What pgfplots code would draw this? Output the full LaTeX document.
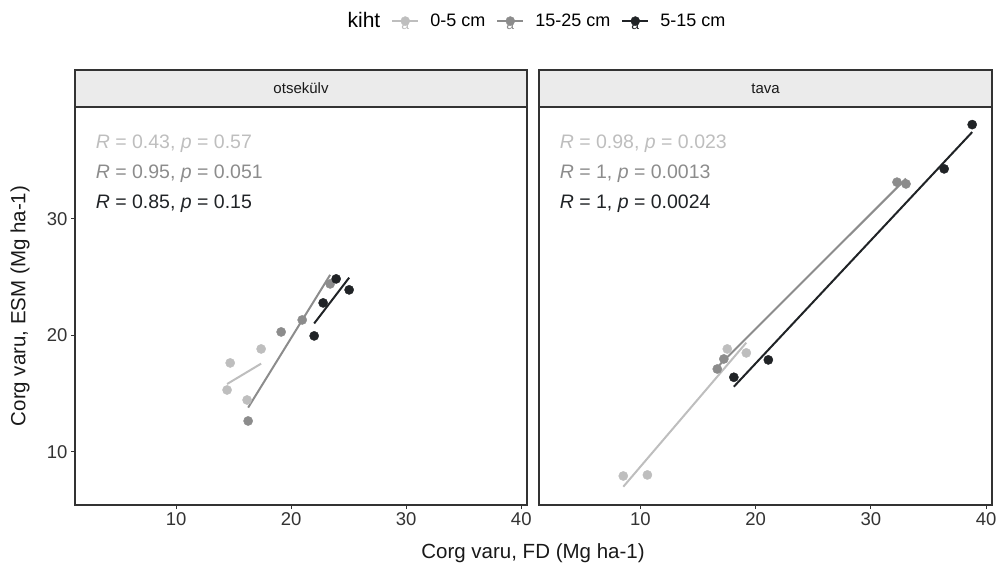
\documentclass[border=0pt]{standalone}
\usepackage{pgfplots}
\pgfplotsset{compat=1.18}
\usepackage{pgfplotstable}
\usepackage{fontspec}
\setmainfont{Liberation Sans}
\definecolor{lightc}{RGB}{190,190,190}
\definecolor{midc}{RGB}{140,140,140}
\definecolor{darkc}{RGB}{32,35,38}
\definecolor{framec}{RGB}{51,51,51}
\definecolor{stripc}{RGB}{235,235,235}

% otsekulv panel
\pgfplotstableread{
x y
14.43 15.32
14.70 17.64
16.17 14.46
17.39 18.84
}\OA
\pgfplotstableread{
x y
16.26 12.66
19.13 20.30
20.96 21.33
23.39 24.42
}\OB
\pgfplotstableread{
x y
22.00 19.96
22.78 22.79
23.91 24.85
25.04 23.91
}\OC
% tava panel
\pgfplotstableread{
x y
8.52 7.94
10.61 8.03
17.54 18.84
19.19 18.50
}\TA
\pgfplotstableread{
x y
16.67 17.12
17.24 17.98
32.26 33.15
33.04 33.00
}\TB
\pgfplotstableread{
x y
18.11 16.41
21.10 17.90
36.35 34.29
38.78 38.09
}\TC

\pgfplotsset{panel/.style={
  scale only axis, width=452pt, height=398pt,
  xmin=1.21, xmax=40.5, ymin=5.45, ymax=39.6,
  axis line style={framec, line width=1.1pt},
  tick style={framec, line width=1pt},
  tick align=outside, major tick length=4pt,
  xtick={10,20,30,40}, ytick={10,20,30},
  xtick pos=bottom, ytick pos=left,
  ticklabel style={font=\fontsize{18.5}{20}\selectfont, text=black!80},
  /pgf/number format/assume math mode=true,
}}
\newcommand{\pts}[2]{\addplot[only marks, mark=*, mark size=4.6pt, color=#1, forget plot] table[x=x,y=y] {#2};}
\newcommand{\reg}[2]{\addplot[no marks, color=#1, line width=2pt, forget plot] table[x=x, y={create col/linear regression={y=y}}] {#2};}

\begin{document}
\begin{tikzpicture}
\path[use as bounding box] (0pt,0pt) rectangle (998pt,568pt);
\begin{axis}[panel, at={(75pt,63pt)}, anchor=south west,
  legend style={at={(1.011,1.216)}, anchor=center, legend columns=-1, draw=none, fill=none,
    font=\fontsize{18}{20}\selectfont,
    /tikz/every odd column/.append style={column sep=9pt},
    /tikz/every even column/.append style={column sep=9pt}},
  ]
\pts{lightc}{\OA}\reg{lightc}{\OA}
\pts{midc}{\OB}\reg{midc}{\OB}
\pts{darkc}{\OC}\reg{darkc}{\OC}
\node[anchor=west, inner sep=0pt, text=lightc, font=\fontsize{19.5}{20}\selectfont] at (axis cs:3,36.44) {\textit{R} = 0.43, \textit{p} = 0.57};
\node[anchor=west, inner sep=0pt, text=midc, font=\fontsize{19.5}{20}\selectfont] at (axis cs:3,33.87) {\textit{R} = 0.95, \textit{p} = 0.051};
\node[anchor=west, inner sep=0pt, text=darkc, font=\fontsize{19.5}{20}\selectfont] at (axis cs:3,31.29) {\textit{R} = 0.85, \textit{p} = 0.15};
\addlegendimage{empty legend}\addlegendentry{\fontsize{21}{22}\selectfont kiht}
\addlegendimage{legend image code/.code={\draw[lightc, line width=2pt] (0pt,0pt) -- (26pt,0pt); \fill[lightc] (13pt,0pt) circle (4.5pt); \node[text=lightc, inner sep=0pt, font=\fontsize{14}{14}\selectfont] at (13pt,-5pt) {a};}}
\addlegendentry{0-5 cm}
\addlegendimage{legend image code/.code={\draw[midc, line width=2pt] (0pt,0pt) -- (26pt,0pt); \fill[midc] (13pt,0pt) circle (4.5pt); \node[text=midc, inner sep=0pt, font=\fontsize{14}{14}\selectfont] at (13pt,-5pt) {a};}}
\addlegendentry{15-25 cm}
\addlegendimage{legend image code/.code={\draw[darkc, line width=2pt] (0pt,0pt) -- (26pt,0pt); \fill[darkc] (13pt,0pt) circle (4.5pt); \node[text=darkc, inner sep=0pt, font=\fontsize{14}{14}\selectfont] at (13pt,-5pt) {a};}}
\addlegendentry{5-15 cm}
\end{axis}
\begin{axis}[panel, at={(539pt,63pt)}, anchor=south west, width=453pt, ytick=\empty]
\pts{lightc}{\TA}\reg{lightc}{\TA}
\pts{midc}{\TB}\reg{midc}{\TB}
\pts{darkc}{\TC}\reg{darkc}{\TC}
\node[anchor=west, inner sep=0pt, text=lightc, font=\fontsize{19.5}{20}\selectfont] at (axis cs:3,36.44) {\textit{R} = 0.98, \textit{p} = 0.023};
\node[anchor=west, inner sep=0pt, text=midc, font=\fontsize{19.5}{20}\selectfont] at (axis cs:3,33.87) {\textit{R} = 1, \textit{p} = 0.0013};
\node[anchor=west, inner sep=0pt, text=darkc, font=\fontsize{19.5}{20}\selectfont] at (axis cs:3,31.29) {\textit{R} = 1, \textit{p} = 0.0024};
\end{axis}
% facet strips
\filldraw[fill=stripc, draw=framec, line width=1.1pt] (75pt,461pt) rectangle (527pt,498pt);
\filldraw[fill=stripc, draw=framec, line width=1.1pt] (539pt,461pt) rectangle (992pt,498pt);
\node[font=\fontsize{15}{16}\selectfont, text=black!90] at (301pt,479.5pt) {otsekülv};
\node[font=\fontsize{15}{16}\selectfont, text=black!90] at (765.5pt,479.5pt) {tava};
% axis titles
\node[font=\fontsize{20.5}{22}\selectfont, text=black!90] at (533pt,15pt) {Corg varu, FD (Mg ha-1)};
\node[rotate=90, font=\fontsize{20.5}{22}\selectfont, text=black!90] at (20pt,262pt) {Corg varu, ESM (Mg ha-1)};
\end{tikzpicture}
\end{document}
